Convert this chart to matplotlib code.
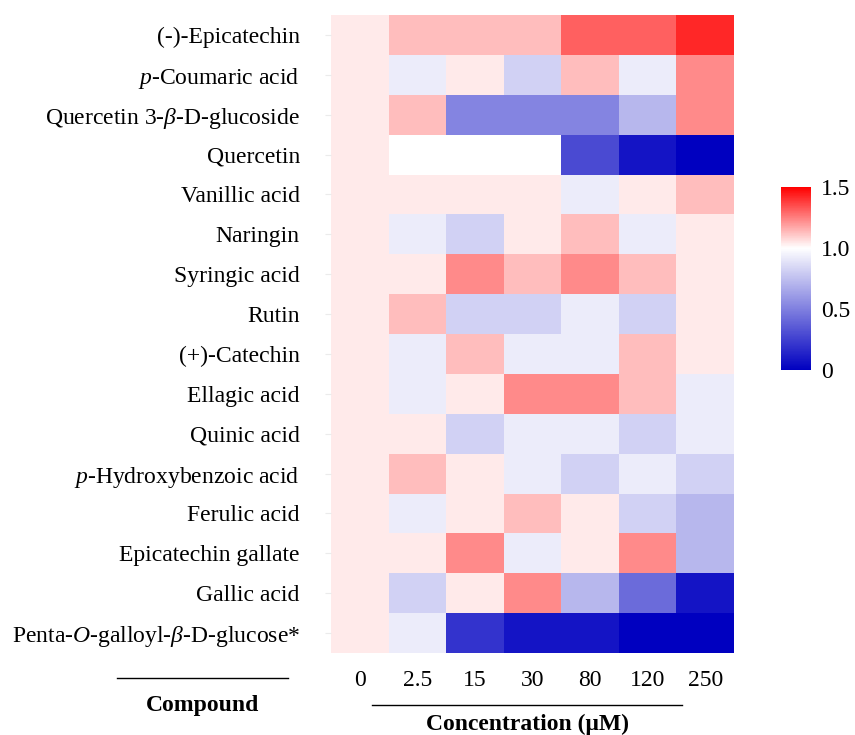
import matplotlib
matplotlib.use("Agg")
import matplotlib.pyplot as plt
import numpy as np
from matplotlib.colors import LinearSegmentedColormap, Normalize

plt.rcParams['font.family'] = ['Liberation Serif', 'DejaVu Serif']
plt.rcParams['mathtext.fontset'] = 'custom'
plt.rcParams['mathtext.rm'] = 'Liberation Serif'
plt.rcParams['mathtext.it'] = 'Liberation Serif:italic'
plt.rcParams['mathtext.bf'] = 'Liberation Serif:bold'

compounds = [
    "(-)-Epicatechin",
    r"$\it{p}$-Coumaric acid",
    r"Quercetin 3-$\it{β}$-D-glucoside",
    "Quercetin",
    "Vanillic acid",
    "Naringin",
    "Syringic acid",
    "Rutin",
    "(+)-Catechin",
    "Ellagic acid",
    "Quinic acid",
    r"$\it{p}$-Hydroxybenzoic acid",
    "Ferulic acid",
    "Epicatechin gallate",
    "Gallic acid",
    r"Penta-$\it{O}$-galloyl-$\it{β}$-D-glucose*",
]
concentrations = ["0", "2.5", "15", "30", "80", "120", "250"]

epicatechin      = [1.04, 1.13, 1.13, 1.13, 1.31, 1.31, 1.42]
p_coumaric       = [1.04, 0.92, 1.04, 0.82, 1.13, 0.92, 1.23]
quercetin_glc    = [1.04, 1.13, 0.52, 0.52, 0.52, 0.72, 1.23]
quercetin        = [1.04, 1.00, 1.00, 1.00, 0.29, 0.08, 0.00]
vanillic         = [1.04, 1.04, 1.04, 1.04, 0.92, 1.04, 1.13]
naringin         = [1.04, 0.92, 0.82, 1.04, 1.13, 0.92, 1.04]
syringic         = [1.04, 1.04, 1.23, 1.13, 1.23, 1.13, 1.04]
rutin            = [1.04, 1.13, 0.82, 0.82, 0.92, 0.82, 1.04]
catechin         = [1.04, 0.92, 1.13, 0.92, 0.92, 1.13, 1.04]
ellagic          = [1.04, 0.92, 1.04, 1.23, 1.23, 1.13, 0.92]
quinic           = [1.04, 1.04, 0.82, 0.92, 0.92, 0.82, 0.92]
p_hydroxybenzoic = [1.04, 1.13, 1.04, 0.92, 0.82, 0.92, 0.82]
ferulic          = [1.04, 0.92, 1.04, 1.13, 1.04, 0.82, 0.72]
ecg              = [1.04, 1.04, 1.23, 0.92, 1.04, 1.23, 0.72]
gallic           = [1.04, 0.82, 1.04, 1.23, 0.72, 0.42, 0.08]
pgg              = [1.04, 0.92, 0.20, 0.08, 0.08, 0.00, 0.00]

data = np.array([epicatechin, p_coumaric, quercetin_glc, quercetin, vanillic,
                 naringin, syringic, rutin, catechin, ellagic, quinic,
                 p_hydroxybenzoic, ferulic, ecg, gallic, pgg])

cmap = LinearSegmentedColormap.from_list(
    "bwr_custom", [(0.0, "#0000C0"), (2/3, "#FFFFFF"), (1.0, "#FF0000")])
norm = Normalize(vmin=0, vmax=1.5)

FS = 17
fig = plt.figure(figsize=(8.55, 7.35), dpi=100)
W, H = 855, 735
ax = fig.add_axes([331/W, 1-653/H, (734-331)/W, (653-15)/H])
mesh = ax.pcolormesh(data, cmap=cmap, norm=norm)
ax.set_xlim(0, data.shape[1])
ax.set_ylim(data.shape[0], 0)
ax.set_yticks(np.arange(len(compounds)) + 0.5)
ax.set_yticklabels(compounds, fontsize=FS)
ax.set_xticks(np.arange(len(concentrations)) + 0.5)
ax.set_xticklabels(concentrations, fontsize=FS)
ax.tick_params(axis='y', length=4.5, color='#EBEBEB', pad=18)
ax.tick_params(axis='x', length=0, pad=12)
for s in ax.spines.values():
    s.set_visible(False)

cax = fig.add_axes([781/W, 1-370/H, 30/W, (370-187)/H])
cb = fig.colorbar(mesh, cax=cax, ticks=[0, 0.5, 1.0, 1.5])
cb.ax.set_yticklabels(["0", "0.5", "1.0", "1.5"], fontsize=FS)
cb.ax.tick_params(length=0, pad=7)
cb.outline.set_visible(False)

# Decorative lines and axis titles
fig.add_artist(plt.Line2D([117/W, 288/W], [1-678/H, 1-678/H], color='black', lw=1))
fig.add_artist(plt.Line2D([372/W, 682/W], [1-705/H, 1-705/H], color='black', lw=1))
fig.text(203/W, 1-705/H, "Compound", ha='center', va='center', fontsize=FS, fontweight='bold')
fig.text(527/W, 1-724/H, "Concentration (μM)", ha='center', va='center', fontsize=FS, fontweight='bold')

fig.savefig("out.png", dpi=100)
